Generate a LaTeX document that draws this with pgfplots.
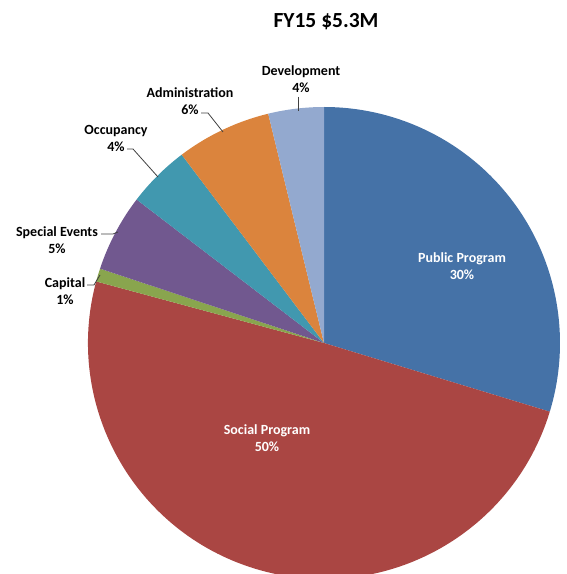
\documentclass[border=0pt]{standalone}
\usepackage{fontspec}
\setmainfont{Carlito}
\usepackage{pgfplots}
\usepackage{pgfplotstable}
\pgfplotsset{compat=1.18}

\definecolor{slice0}{HTML}{4572A7}
\definecolor{slice1}{HTML}{AA4643}
\definecolor{slice2}{HTML}{89A54E}
\definecolor{slice3}{HTML}{71588F}
\definecolor{slice4}{HTML}{4198AF}
\definecolor{slice5}{HTML}{DB843D}
\definecolor{slice6}{HTML}{93A9CF}
\definecolor{leader}{HTML}{404040}

% share of the budget, percent, clockwise from 12 o'clock
\pgfplotstableread[col sep=comma]{
name,value
Public Program,29.7
Social Program,49.5
Capital,0.9
Special Events,5.3
Occupancy,4.3
Administration,6.5
Development,3.8
}\piedata

\newcommand\lbl{\fontsize{14}{17}\selectfont\bfseries}

\begin{document}
\begin{tikzpicture}
\useasboundingbox (0,0) rectangle (567pt,574pt);
\clip (0,0) rectangle (567pt,574pt);

% start/end angle of each slice
\gdef\angcur{90}
\foreach \i in {0,...,6}{
  \pgfplotstablegetelem{\i}{value}\of\piedata
  \pgfmathsetmacro\tmp{\angcur-3.6*\pgfplotsretval}
  \expandafter\xdef\csname sa\i\endcsname{\angcur}
  \expandafter\xdef\csname ea\i\endcsname{\tmp}
  \xdef\angcur{\tmp}
}

\begin{axis}[
  x=1pt, y=1pt,
  xmin=0, xmax=567, ymin=0, ymax=574,
  anchor=south west, at={(0,0)},
  hide axis,
  clip=false,
]
\pgfplotsinvokeforeach{0,...,6}{
  \fill[slice#1] (axis cs:324,231) -- ++(\csname sa#1\endcsname:236pt)
    arc[start angle=\csname sa#1\endcsname, end angle=\csname ea#1\endcsname, radius=236pt] -- cycle;
}

% title
\node[font=\fontsize{21.5}{25}\selectfont\bfseries] at (axis cs:326,552) {FY15 \$5.3M};

% labels inside
\node[white, align=center, font=\lbl] at (axis cs:462,308) {Public Program\\30\%};
\node[white, align=center, font=\lbl] at (axis cs:267,136) {Social Program\\50\%};

% labels outside
\node[align=center, font=\lbl] at (axis cs:301,495) {Development\\4\%};
\node[align=center, font=\lbl] at (axis cs:190,473) {Administration\\6\%};
\node[align=center, font=\lbl] at (axis cs:116,436) {Occupancy\\4\%};
\node[align=center, font=\lbl] at (axis cs:57,334) {Special Events\\5\%};
\node[align=center, font=\lbl] at (axis cs:65,283) {Capital\\1\%};

% leader lines
\draw[leader, line width=0.8pt] (axis cs:298,477) -- (axis cs:298,463);
\draw[leader, line width=0.8pt] (axis cs:201,461) -- (axis cs:208,461) -- (axis cs:223,442);
\draw[leader, line width=0.8pt] (axis cs:127,425) -- (axis cs:133,425) -- (axis cs:158,397);
\draw[leader, line width=0.8pt] (axis cs:101,340) -- (axis cs:113,340) -- (axis cs:118,342);
\draw[leader, line width=0.8pt] (axis cs:87,289) -- (axis cs:94,289) -- (axis cs:100,299);
\end{axis}
\end{tikzpicture}
\end{document}
